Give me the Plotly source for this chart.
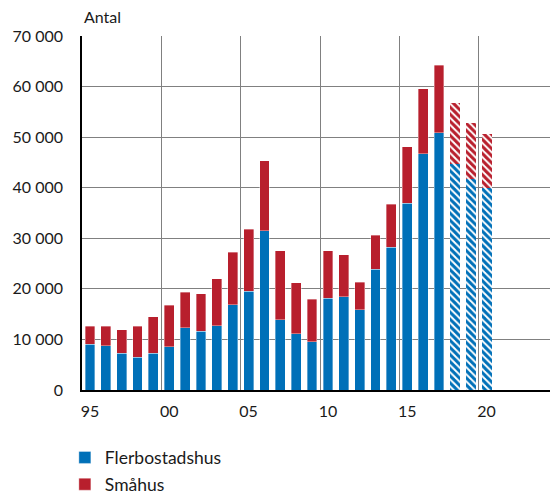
import plotly.graph_objects as go

years = list(range(1995, 2021))
flerbostadshus = [9000, 8740, 7280, 6490, 7280, 8540, 12310, 11650, 12710, 16810,
                  19530, 31450, 13900, 11120, 9530, 18140, 18470, 15890, 23830, 28200,
                  36950, 46750, 50860, 44770, 41720, 39930]
totalt = [12650, 12650, 11920, 12580, 14500, 16750, 19330, 19000, 22040, 27270,
          31780, 45360, 27540, 21180, 17940, 27540, 26740, 21320, 30650, 36740,
          48080, 59600, 64240, 56690, 52710, 50660]
smahus = [t - f for t, f in zip(totalt, flerbostadshus)]
prognos_fran = 2018

tick_alias = {"1995": "95", "2000": "00", "2005": "05",
              "2010": "10", "2015": "15", "2020": "20"}

BLUE = "#0070b8"
RED = "#b81f2d"

n_hist = years.index(prognos_fran)
bar_w = 0.62
outline = dict(color="rgba(255,255,255,0.6)", width=0.6)


def hatch(col):
    return dict(color="white", line=dict(width=0),
                pattern=dict(shape="\\", fgcolor=col, bgcolor="white",
                             fgopacity=1, size=5, solidity=0.6))


fig = go.Figure()
fig.add_trace(go.Bar(x=years[:n_hist], y=flerbostadshus[:n_hist], name="Flerbostadshus",
                     legendgroup="a", marker=dict(color=BLUE, line=outline), width=bar_w))
fig.add_trace(go.Bar(x=years[:n_hist], y=smahus[:n_hist], name="Småhus",
                     legendgroup="b", marker=dict(color=RED, line=outline), width=bar_w))
fig.add_trace(go.Bar(x=years[n_hist:], y=flerbostadshus[n_hist:], showlegend=False,
                     legendgroup="a", marker=hatch(BLUE), width=bar_w))
fig.add_trace(go.Bar(x=years[n_hist:], y=smahus[n_hist:], showlegend=False,
                     legendgroup="b", marker=hatch(RED), width=bar_w))

# the page body adds an 8px offset, so the figure is 8px smaller than the window
fig.update_layout(
    barmode="stack",
    width=550, height=487,
    margin=dict(l=74, r=0, t=28, b=105, autoexpand=False),
    plot_bgcolor="white", paper_bgcolor="white",
    font=dict(family="Lato", size=16, color="#1a1a1a"),
    separators=", ",
    showlegend=True,
    legend=dict(orientation="v", x=-0.036, xanchor="left", y=-0.14, yanchor="top",
                traceorder="grouped", font=dict(size=17.5), itemwidth=30,
                tracegroupgap=1),
    annotations=[dict(text="Antal", xref="paper", yref="paper", x=0, y=1.022,
                      xanchor="left", yanchor="bottom", showarrow=False,
                      font=dict(size=16))],
)
fig.update_xaxes(
    range=[1994.5, 2024.5],
    tickmode="linear", tick0=1995, dtick=5, tickformat="d",
    labelalias=tick_alias,
    showgrid=False, zeroline=False, automargin=False,
    showline=True, linecolor="black", linewidth=1.5,
    ticks="", ticklabelstandoff=6,
    minor=dict(tickmode="linear", tick0=1994.5, dtick=5, showgrid=True,
               gridcolor="#808080", gridwidth=1),
)
fig.update_yaxes(
    range=[0, 70000], dtick=10000, tickformat=",d",
    showgrid=True, gridcolor="#808080", gridwidth=1, automargin=False,
    zeroline=False, showline=True, linecolor="black", linewidth=1.5,
    ticks="", ticklabelstandoff=14,
)

fig.write_html("out.html")
